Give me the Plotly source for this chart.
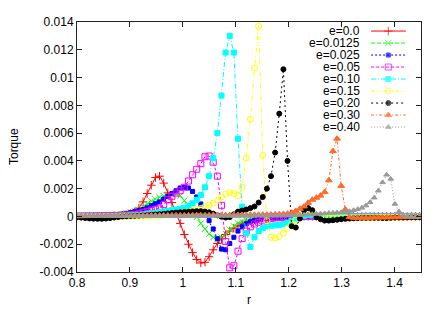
import plotly.graph_objects as go

# r grid (shared by all series)
r = [0.8000, 0.8078, 0.8156, 0.8234, 0.8312, 0.8390, 0.8468, 0.8546, 0.8624, 0.8702,
     0.8780, 0.8858, 0.8936, 0.9014, 0.9092, 0.9170, 0.9248, 0.9326, 0.9404, 0.9482,
     0.9560, 0.9638, 0.9716, 0.9794, 0.9872, 0.9950, 1.0028, 1.0106, 1.0184, 1.0262,
     1.0340, 1.0418, 1.0496, 1.0574, 1.0652, 1.0730, 1.0808, 1.0886, 1.0964, 1.1042,
     1.1120, 1.1198, 1.1276, 1.1354, 1.1432, 1.1510, 1.1588, 1.1666, 1.1744, 1.1822,
     1.1900, 1.1978, 1.2056, 1.2134, 1.2212, 1.2290, 1.2368, 1.2446, 1.2524, 1.2602,
     1.2680, 1.2758, 1.2836, 1.2914, 1.2992, 1.3070, 1.3148, 1.3226, 1.3304, 1.3382,
     1.3460, 1.3538, 1.3616, 1.3694, 1.3772, 1.3850, 1.3928, 1.4006, 1.4084, 1.4162,
     1.4240, 1.4318, 1.4396, 1.4474]

# Torque values, in units of 1e-3
e_000 = [0.0, 0.0, 0.0, 0.0, 0.01, 0.01, 0.02, 0.03, 0.04, 0.05,
         0.06, 0.08, 0.1, 0.2, 0.33, 0.6, 1.05, 1.65, 2.25, 2.8,
         2.9, 2.4, 1.7, 1.0, 0.25, -0.5, -1.3, -2.0, -2.6, -3.1,
         -3.35, -3.3, -2.9, -2.4, -1.95, -1.6, -1.3, -1.05, -0.85, -0.68,
         -0.53, -0.42, -0.32, -0.24, -0.18, -0.13, -0.09, -0.07, -0.05, -0.04,
         -0.03, -0.02, -0.02, -0.01, -0.01, 0.0, 0.0, 0.0, 0.0, 0.0,
         0.0, 0.0, 0.0, 0.0, 0.0, 0.0, 0.0, 0.0, 0.0, 0.0,
         0.0, 0.0, 0.0, 0.0, 0.0, 0.0, 0.0, 0.0, 0.0, 0.0,
         0.0, 0.0, 0.0, 0.0]
e_0125 = [0.0, 0.0, 0.0, 0.01, 0.01, 0.02, 0.03, 0.05, 0.07, 0.1,
          0.13, 0.17, 0.23, 0.3, 0.38, 0.5, 0.7, 0.9, 1.1, 1.25,
          1.38, 1.47, 1.53, 1.58, 1.6, 1.5, 1.15, 0.75, 0.4, -0.05,
          -0.5, -0.9, -1.25, -1.5, -1.65, -1.5, -1.25, -0.95, -0.7, -0.5,
          -0.36, -0.27, -0.2, -0.15, -0.11, -0.08, -0.06, -0.04, -0.03, -0.02,
          -0.01, -0.01, 0.0, 0.0, 0.0, 0.0, 0.0, 0.0, 0.0, 0.0,
          0.0, 0.0, 0.0, 0.0, 0.0, 0.0, 0.0, 0.0, 0.0, 0.0,
          0.0, 0.0, 0.0, 0.0, 0.0, 0.0, 0.0, 0.0, 0.0, 0.0,
          0.0, 0.0, 0.0, 0.0]
e_025 = [0.0, 0.0, 0.0, 0.01, 0.01, 0.02, 0.03, 0.05, 0.07, 0.1,
         0.13, 0.17, 0.22, 0.28, 0.35, 0.42, 0.5, 0.62, 0.78, 0.92,
         1.05, 1.25, 1.45, 1.65, 1.85, 2.05, 2.1, 2.05, 1.8, 1.4,
         0.9, 0.3, -0.3, -0.9, -1.6, -2.35, -2.4, -1.95, -1.5, -1.05,
         -0.75, -0.52, -0.38, -0.28, -0.22, -0.17, -0.13, -0.1, -0.07, -0.05,
         -0.04, -0.03, -0.02, -0.02, -0.01, -0.01, 0.0, 0.0, 0.0, 0.0,
         0.0, 0.0, 0.0, 0.0, 0.0, 0.0, 0.0, 0.0, 0.0, 0.0,
         0.0, 0.0, 0.0, 0.0, 0.0, 0.0, 0.0, 0.0, 0.0, 0.0,
         0.0, 0.0, 0.0, 0.0]
e_05 = [0.02, 0.02, 0.03, 0.03, 0.03, 0.04, 0.04, 0.05, 0.05, 0.06,
        0.07, 0.08, 0.1, 0.12, 0.15, 0.2, 0.3, 0.37, 0.45, 0.52,
        0.6, 0.85, 1.2, 1.45, 1.68, 1.85, 2.1, 2.55, 3.0, 3.4,
        3.8, 4.3, 4.35, 3.9, 2.9, 0.8, -1.8, -3.7, -3.55, -2.5,
        -1.6, -1.05, -0.75, -0.55, -0.42, -0.32, -0.22, -0.15, -0.1, -0.07,
        -0.05, -0.03, -0.02, -0.01, 0.0, 0.01, 0.02, 0.02, 0.01, 0.0,
        0.0, 0.0, 0.0, 0.0, 0.0, 0.0, 0.0, 0.0, 0.0, 0.0,
        0.0, 0.0, 0.0, 0.0, 0.0, 0.0, 0.0, 0.0, 0.0, 0.0,
        0.0, 0.0, 0.0, 0.0]
e_10 = [0.01, 0.01, 0.01, 0.02, 0.02, 0.02, 0.03, 0.03, 0.04, 0.04,
        0.05, 0.06, 0.07, 0.08, 0.1, 0.12, 0.15, 0.18, 0.22, 0.26,
        0.32, 0.36, 0.4, 0.45, 0.5, 0.55, 0.62, 0.75, 0.95, 1.2,
        1.55, 2.1, 2.9, 4.2, 6.0, 8.7, 11.8, 13.0, 11.8, 5.6,
        0.7, -1.2, -2.2, -1.5, -1.05, -0.85, -0.72, -0.67, -0.64, -0.6,
        -0.55, -0.45, -0.3, -0.15, -0.05, 0.05, 0.1, 0.08, 0.04, 0.02,
        0.0, 0.0, 0.0, 0.0, 0.0, 0.0, 0.0, 0.0, 0.0, 0.0,
        0.0, 0.0, 0.0, 0.0, 0.0, 0.0, 0.0, 0.0, 0.0, 0.0,
        0.0, 0.0, 0.0, 0.0]
e_15 = [-0.02, -0.03, -0.04, -0.05, -0.06, -0.06, -0.06, -0.05, -0.04, -0.03,
        -0.02, -0.01, 0.0, 0.01, 0.02, 0.03, 0.04, 0.05, 0.06, 0.07,
        0.08, 0.1, 0.12, 0.15, 0.18, 0.22, 0.27, 0.33, 0.4, 0.48,
        0.58, 0.7, 0.82, 0.95, 1.15, 1.4, 1.6, 1.7, 1.65, 1.5,
        2.1, 4.2, 7.0, 10.7, 13.7, 4.4, -0.3, -1.5, -1.55, -1.45,
        -1.2, -0.85, -0.55, -0.25, 0.05, 0.3, 0.4, 0.3, 0.1, -0.05,
        -0.1, -0.12, -0.12, -0.12, -0.11, -0.1, -0.1, -0.1, -0.09, -0.09,
        -0.08, -0.08, -0.08, -0.07, -0.07, -0.07, -0.06, -0.06, -0.06, -0.05,
        -0.05, -0.05, -0.04, -0.04]
e_20 = [-0.05, -0.08, -0.11, -0.14, -0.16, -0.17, -0.17, -0.15, -0.12, -0.08,
        -0.04, 0.0, 0.02, 0.04, 0.05, 0.06, 0.08, 0.1, 0.12, 0.14,
        0.16, 0.19, 0.22, 0.25, 0.28, 0.3, 0.32, 0.34, 0.36, 0.38,
        0.38, 0.35, 0.3, 0.2, 0.08, -0.02, -0.08, -0.05, 0.15, 0.35,
        0.42, 0.5, 0.6, 0.72, 1.0, 1.4, 2.0, 2.9, 4.6, 7.4,
        10.6, 4.0, -0.7, -0.8, -0.15, 0.45, 0.6, 0.45, -0.05, -0.2,
        -0.3, -0.3, -0.27, -0.24, -0.2, -0.17, -0.15, -0.13, -0.12, -0.1,
        -0.1, -0.1, -0.1, -0.1, -0.12, -0.12, -0.1, -0.08, -0.08, -0.08,
        -0.07, -0.06, -0.06, -0.05]
e_30 = [0.02, 0.02, 0.03, 0.03, 0.03, 0.04, 0.04, 0.04, 0.05, 0.05,
        0.05, 0.05, 0.06, 0.06, 0.06, 0.06, 0.07, 0.07, 0.07, 0.07,
        0.07, 0.08, 0.08, 0.08, 0.08, 0.08, 0.08, 0.08, 0.09, 0.09,
        0.09, 0.09, 0.09, 0.1, 0.1, 0.1, 0.1, 0.1, 0.11, 0.11,
        0.11, 0.11, 0.12, 0.12, 0.12, 0.13, 0.13, 0.14, 0.15, 0.16,
        0.18, 0.2, 0.28, 0.4, 0.55, 0.72, 0.98, 1.2, 1.35, 1.5,
        1.75, 2.6, 4.7, 5.6, 2.2, 0.5, -0.05, -0.1, -0.1, -0.1,
        -0.1, -0.1, -0.08, -0.08, -0.08, -0.07, -0.07, -0.06, -0.06, -0.05,
        -0.05, -0.04, -0.04, -0.03]
e_40 = [0.01, 0.01, 0.01, 0.01, 0.02, 0.02, 0.02, 0.02, 0.02, 0.02,
        0.02, 0.02, 0.02, 0.02, 0.02, 0.02, 0.02, 0.02, 0.02, 0.02,
        0.02, 0.02, 0.02, 0.02, 0.02, 0.02, 0.02, 0.03, 0.03, 0.03,
        0.03, 0.03, 0.03, 0.03, 0.03, 0.04, 0.04, 0.04, 0.04, 0.04,
        0.04, 0.04, 0.05, 0.05, 0.05, 0.05, 0.05, 0.05, 0.06, 0.06,
        0.06, 0.07, 0.08, 0.09, 0.1, 0.12, 0.14, 0.16, 0.18, 0.2,
        0.22, 0.24, 0.26, 0.28, 0.3, 0.33, 0.38, 0.45, 0.52, 0.62,
        0.78, 1.02, 1.35, 1.85, 2.45, 3.0, 2.7, 0.9, 0.35, 0.1,
        0.02, 0.0, -0.02, -0.02]

names = ["e=0.0", "e=0.0125", "e=0.025", "e=0.05", "e=0.10",
         "e=0.15", "e=0.20", "e=0.30", "e=0.40"]
series = [e_000, e_0125, e_025, e_05, e_10, e_15, e_20, e_30, e_40]

x_ticks = [0.8, 0.9, 1.0, 1.1, 1.2, 1.3, 1.4]
x_tick_text = ["0.8", "0.9", "1", "1.1", "1.2", "1.3", "1.4"]
y_ticks = [-4, -2, 0, 2, 4, 6, 8, 10, 12, 14]
y_tick_text = ["-0.004", "-0.002", "0", "0.002", "0.004", "0.006",
               "0.008", "0.01", "0.012", "0.014"]

styles = [
    dict(color="#ff0000", dash="solid", symbol="cross-thin-open", size=6),
    dict(color="#00ff00", dash="4px,2px", symbol="x-thin-open", size=6),
    dict(color="#0000ff", dash="2px,2px", symbol="square", size=4),
    dict(color="#ff00ff", dash="3px,2px", symbol="square-open", size=6),
    dict(color="#00ffff", dash="5px,2px,1px,2px", symbol="square", size=5),
    dict(color="#ffff00", dash="4px,2px,1px,2px,1px,2px", symbol="circle-open", size=6),
    dict(color="#000000", dash="2px,3px", symbol="circle", size=5),
    dict(color="#ff6a2a", dash="3px,2px,1px,2px", symbol="triangle-up", size=6),
    dict(color="#999999", dash="1px,2px", symbol="triangle-up", size=5),
]

FONT = "Liberation Sans, Arial, sans-serif"
fig = go.Figure()

for name, vals, st in zip(names, series, styles):
    fig.add_trace(go.Scatter(
        x=r, y=vals, mode="lines+markers", name=name,
        line=dict(color=st["color"], width=1, dash=st["dash"]),
        marker=dict(symbol=st["symbol"], size=st["size"], color=st["color"],
                    line=dict(color=st["color"], width=1)),
        showlegend=False, hoverinfo="skip"))

# custom gnuplot-style legend (text on the left, sample on the right)
leg_x0, leg_xm, leg_x1 = 0.855, 0.905, 0.956
leg_text_x = 0.8285
leg_y0, leg_dy = 0.9638, 0.048
for i, (name, st) in enumerate(zip(names, styles)):
    yy = leg_y0 - i * leg_dy
    fig.add_trace(go.Scatter(
        x=[leg_x0, leg_xm, leg_x1], y=[yy, yy, yy], xaxis="x2", yaxis="y2",
        mode="lines+markers",
        line=dict(color=st["color"], width=1, dash=st["dash"]),
        marker=dict(symbol=st["symbol"], size=[0, st["size"], 0], color=st["color"],
                    line=dict(color=st["color"], width=1)),
        showlegend=False, hoverinfo="skip"))
    fig.add_annotation(x=leg_text_x, y=yy, xref="paper", yref="paper",
                       text=name, showarrow=False, xanchor="right", yanchor="middle",
                       font=dict(family=FONT, size=12, color="#000000"))

fig.add_annotation(x=-0.183, y=0.5, xref="paper", yref="paper", text="Torque",
                   textangle=-90, showarrow=False, xanchor="center", yanchor="middle",
                   font=dict(family=FONT, size=12, color="#000000"))
fig.add_annotation(x=0.5, y=-0.113, xref="paper", yref="paper", text="r",
                   showarrow=False, xanchor="center", yanchor="middle",
                   font=dict(family=FONT, size=12, color="#000000"))

axis_common = dict(showgrid=False, zeroline=False, showline=True, mirror="ticks",
                   linecolor="#222222", linewidth=1, ticks="inside", ticklen=5,
                   tickcolor="#222222", tickwidth=1,
                   tickfont=dict(family=FONT, size=12, color="#000000"))

# the page body adds an 8px offset, so the figure is 8px smaller than the window
fig.update_layout(
    width=434, height=301,
    margin=dict(l=69, r=21, t=7, b=37),
    paper_bgcolor="white", plot_bgcolor="white",
    showlegend=False,
    xaxis=dict(range=[0.8, 1.45], tickvals=x_ticks, ticktext=x_tick_text, **axis_common),
    yaxis=dict(range=[-4, 14], tickvals=y_ticks, ticktext=y_tick_text, **axis_common),
    xaxis2=dict(range=[0, 1], overlaying="x", visible=False, fixedrange=True),
    yaxis2=dict(range=[0, 1], overlaying="y", visible=False, fixedrange=True),
)

fig.write_html("out.html")
